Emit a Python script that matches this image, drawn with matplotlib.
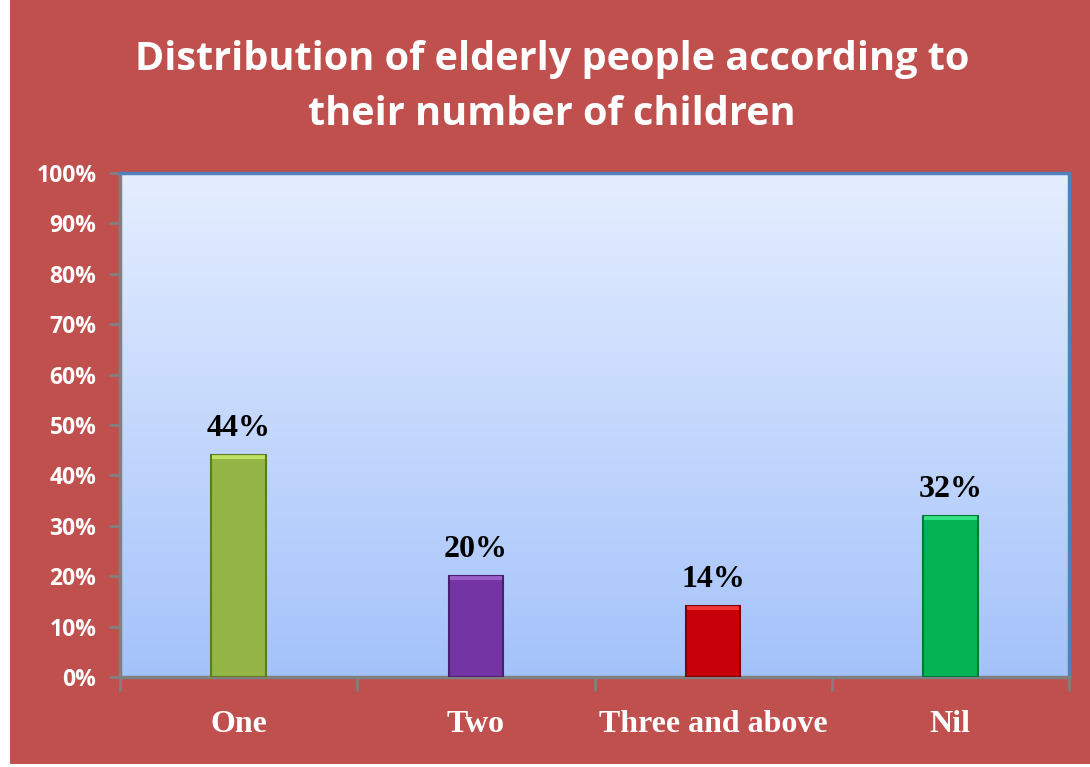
import numpy as np
import matplotlib
matplotlib.use("Agg")
import matplotlib.pyplot as plt
from matplotlib.patches import Rectangle

categories = ["One", "Two", "Three and above", "Nil"]
values = [44, 20, 14, 32]
bar_colors = ["#92b545", "#7434a3", "#c8000a", "#04b454"]
edge_colors = ["#5f7a25", "#4b1f70", "#7d0006", "#02783a"]
top_colors = ["#c8ef6a", "#a66ad6", "#ff4040", "#40f090"]
yticks = [0, 10, 20, 30, 40, 50, 60, 70, 80, 90, 100]
ytick_labels = [f"{t}%" for t in yticks]
title = "Distribution of elderly people according to\ntheir number of children"

red = "#c0504d"

fig = plt.figure(figsize=(10.9, 7.67), dpi=100, facecolor="white")
fig.patches.append(Rectangle((10 / 1090, 3 / 767), 1, 1, transform=fig.transFigure,
                             facecolor=red, edgecolor="none", zorder=-10))

ax = fig.add_axes([120 / 1090, 90 / 767, 949 / 1090, 504 / 767])
ax.set_facecolor("none")

# gradient background of plot area
grad = np.linspace(0, 1, 256).reshape(-1, 1)
cmap = matplotlib.colors.LinearSegmentedColormap.from_list("bg", ["#a4c2fa", "#e5eeff"])
ax.imshow(grad, extent=[0, 1, 0, 1], transform=ax.transAxes, origin="lower",
          aspect="auto", cmap=cmap, zorder=0)

x = np.arange(len(categories))
width = 0.23
bars = ax.bar(x, values, width=width, color=bar_colors, edgecolor=edge_colors,
              linewidth=1.5, zorder=3)

# light bevel strip on top of each bar
for xi, v, tc in zip(x, values, top_colors):
    ax.bar(xi, 0.8, bottom=v - 0.8, width=width * 0.96, color=tc,
           edgecolor="none", zorder=4, alpha=0.8)

for xi, v in zip(x, values):
    ax.text(xi, v + 2.4, f"{v}%", ha="center", va="bottom", fontsize=23,
            fontweight="bold", family="Liberation Serif", color="black", zorder=5)

ax.set_xlim(-0.5, len(categories) - 0.5)
ax.set_ylim(0, 100)
ax.set_yticks(yticks)
ax.set_yticklabels(ytick_labels, fontsize=16.5, fontweight="bold",
                   family="Open Sans", color="white")
ax.set_xticks(x)
ax.set_xticklabels(categories, fontsize=23, fontweight="bold",
                   family="Liberation Serif", color="white")
ax.set_xticks(np.arange(-0.5, len(categories), 1), minor=True)
ax.tick_params(axis="x", which="major", length=0, pad=24)
ax.tick_params(axis="x", which="minor", length=10, width=2, color="#808080")
ax.tick_params(axis="y", length=8, width=2, color="#808080", pad=9)

for s in ["left", "bottom"]:
    ax.spines[s].set_color("#808080")
    ax.spines[s].set_linewidth(2.5)
for s in ["top", "right"]:
    ax.spines[s].set_color("#4f81bd")
    ax.spines[s].set_linewidth(2.5)

fig.text(552 / 1090, 1 - 87 / 767, title, ha="center", va="center",
         fontsize=28.5, fontweight="bold", family="Open Sans", color="white",
         linespacing=1.56)

fig.savefig("out.png", dpi=100, facecolor=fig.get_facecolor())
